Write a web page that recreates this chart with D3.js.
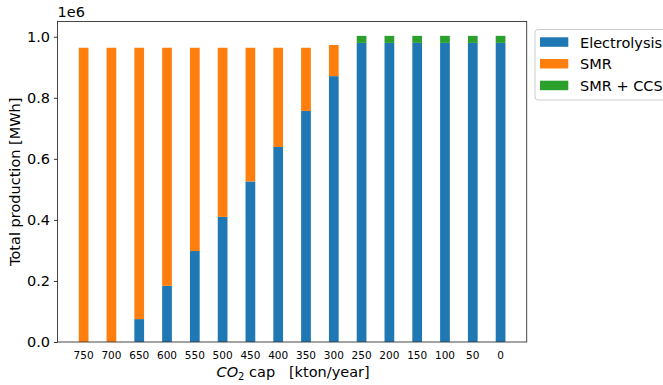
<!DOCTYPE html>
<meta charset="utf-8">
<style>
  body { margin: 0; background: #fff; }
  text { font-family: "DejaVu Sans", sans-serif; fill: #000; }
</style>
<body>
<svg width="663" height="385"></svg>
</body>
<script src="https://cdn.jsdelivr.net/npm/d3@7"></script>
<script>
    // CO2 cap categories [kton/year]
    let caps = ["750", "700", "650", "600", "550", "500", "450", "400", "350", "300", "250", "200", "150", "100", "50", "0"];
    // production per technology [MWh]
    let electrolysis = [0, 0, 0.075e6, 0.184e6, 0.298e6, 0.410e6, 0.526e6, 0.639e6, 0.757e6, 0.871e6, 0.980e6, 0.980e6, 0.980e6, 0.980e6, 0.980e6, 0.980e6];
    let smr = [0.964e6, 0.964e6, 0.889e6, 0.780e6, 0.666e6, 0.554e6, 0.438e6, 0.325e6, 0.207e6, 0.102e6, 0, 0, 0, 0, 0, 0];
    let smr_ccs = [0, 0, 0, 0, 0, 0, 0, 0, 0, 0, 0.023e6, 0.023e6, 0.023e6, 0.023e6, 0.023e6, 0.023e6];
    let y_ticks = [0, 0.2e6, 0.4e6, 0.6e6, 0.8e6, 1.0e6];

    let series_names = ["Electrolysis", "SMR", "SMR + CCS"];
    let colors = ["#1f77b4", "#ff7f0e", "#2ca02c"];

    var svg = d3.select("svg");
    let plot_left = 57.5, plot_right = 526.7, plot_top = 21.5, plot_bottom = 342;

    let rows = caps.map(function(c, i) {
        return { cap: c, "Electrolysis": electrolysis[i], "SMR": smr[i], "SMR + CCS": smr_ccs[i] };
    });
    let stacked = d3.stack().keys(series_names)(rows);

    var x = d3.scaleBand()
        .domain(caps)
        .range([plot_left, plot_right])
        .paddingInner(0.65)
        .paddingOuter(0.765);

    var y = d3.scaleLinear()
        .domain([0, 1.05e6])
        .range([plot_bottom, plot_top]);

    // bars
    svg.append("g")
        .selectAll("g")
        .data(stacked)
        .enter().append("g")
            .attr("fill", function(d, i) { return colors[i]; })
        .selectAll("rect")
        .data(function(d) { return d; })
        .enter().append("rect")
            .attr("x", function(d) { return x(d.data.cap); })
            .attr("width", x.bandwidth())
            .attr("y", function(d) { return y(d[1]); })
            .attr("height", function(d) { return y(d[0]) - y(d[1]); });

    // frame
    svg.append("rect")
        .attr("x", plot_left).attr("y", plot_top)
        .attr("width", plot_right - plot_left).attr("height", plot_bottom - plot_top)
        .attr("fill", "none").attr("stroke", "#333").attr("stroke-width", 0.9);

    // y axis
    var y_axis = svg.append("g")
        .attr("transform", "translate(" + plot_left + ",0)")
        .call(d3.axisLeft(y).tickValues(y_ticks).tickSize(3.5).tickPadding(4)
            .tickFormat(function(d) { return d3.format(".1f")(d / 1e6); }));
    y_axis.select(".domain").remove();
    y_axis.selectAll("line").attr("stroke", "#333");
    y_axis.selectAll("text").style("font-size", "14.5px").attr("fill", "#222");

    // x axis
    var x_axis = svg.append("g")
        .attr("transform", "translate(0," + plot_bottom + ")")
        .call(d3.axisBottom(x).tickSize(0).tickPadding(10));
    x_axis.select(".domain").remove();
    x_axis.selectAll("text").style("font-size", "10.5px").attr("fill", "#222");

    // offset label
    svg.append("text")
        .attr("x", plot_left).attr("y", 17)
        .style("font-size", "14.5px").attr("fill", "#222")
        .text("1e6");

    // axis labels
    svg.append("text")
        .attr("transform", "translate(20," + ((plot_top + plot_bottom) / 2) + ") rotate(-90)")
        .attr("text-anchor", "middle")
        .style("font-size", "14.5px")
        .text("Total production [MWh]");

    var xl = svg.append("text")
        .attr("x", (plot_left + plot_right) / 2 + 1).attr("y", 377)
        .attr("text-anchor", "middle")
        .style("font-size", "14.5px");
    xl.append("tspan").style("font-style", "italic").text("CO");
    xl.append("tspan").attr("dy", 3).style("font-size", "10px").text("2");
    xl.append("tspan").attr("dy", -3).text("\u00a0cap\u00a0\u00a0\u00a0[kton/year]");

    // legend
    var legend = svg.append("g");
    legend.append("rect")
        .attr("x", 535).attr("y", 29.5).attr("width", 140).attr("height", 70.5).attr("rx", 3)
        .attr("fill", "#fff").attr("stroke", "#ccc");
    series_names.forEach(function(name, i) {
        legend.append("rect")
            .attr("x", 540).attr("y", 37.3 + i * 21.7)
            .attr("width", 28.3).attr("height", 9.5)
            .attr("fill", colors[i]);
        legend.append("text")
            .attr("x", 580).attr("y", 47.5 + i * 21.7)
            .style("font-size", "14.5px")
            .text(name);
    });
</script>
